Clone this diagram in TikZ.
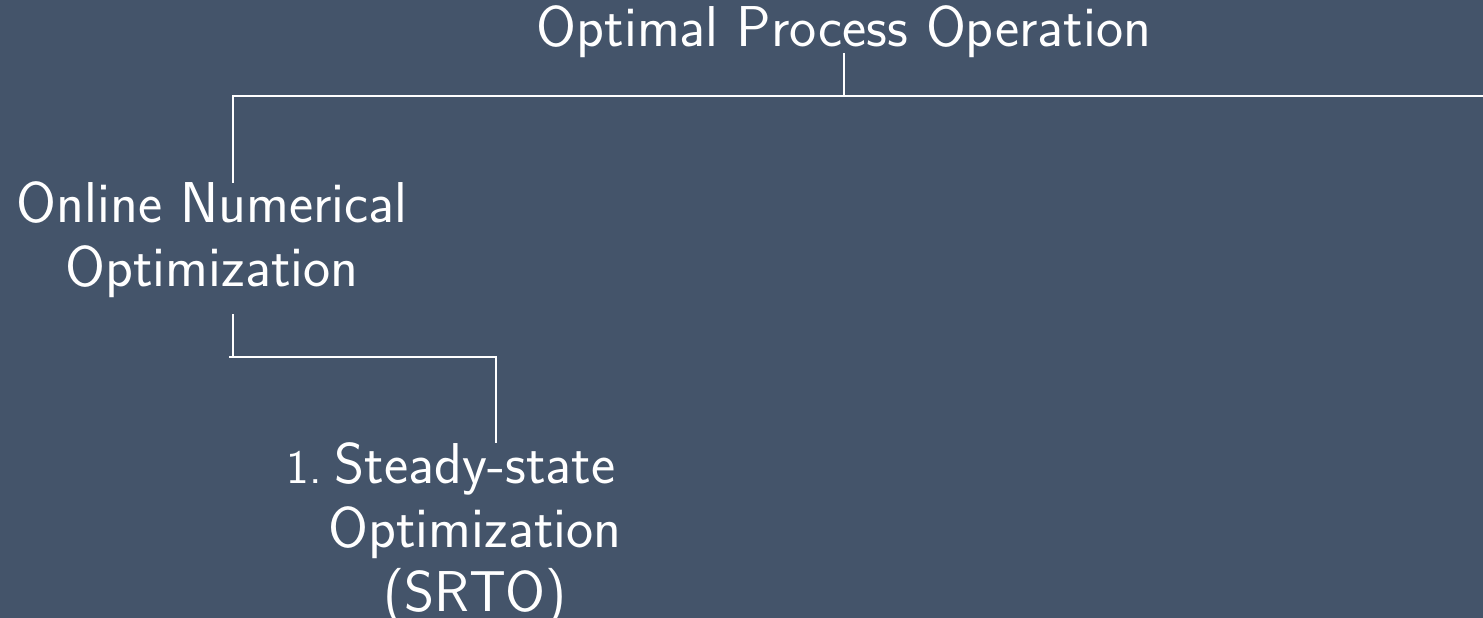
\documentclass[tikz,border=0pt]{standalone}
\usepackage{xcolor}
\definecolor{slate}{HTML}{44546A}
\begin{document}
\begin{tikzpicture}[x=1pt,y=-1pt,
  label/.style={text=white,font=\sffamily\fontsize{57.6}{64}\selectfont,align=center,inner sep=0pt,anchor=base},
  link/.style={draw=white,line width=2pt}]
  % background and bounding box
  \fill[slate] (0,0) rectangle (1483,618);
  \useasboundingbox (0,0) rectangle (1483,618);

  % text nodes (anchored at the baseline of their last line)
  \node[label] (root) at (844,47) {Optimal Process Operation};
  \node[label] (online) at (212,286) {Online Numerical\\Optimization};
  \node[label] (srto) at (475,611) {\llap{{\fontsize{48}{64}\selectfont 1.}\hspace{13pt}}Steady-state\\Optimization\\(SRTO)};

  % junction points of the tree connectors
  \coordinate (rootfoot) at (844,53);
  \coordinate (bar1) at (844,96);
  \coordinate (barend) at (1483,96);
  \coordinate (onlinetop) at (233,183);
  \coordinate (onlinefoot) at (233,314);
  \coordinate (bar2) at (229,357);
  \coordinate (srtotop) at (496,443);

  % connectors
  \draw[link] (rootfoot) -- (bar1);
  \draw[link] (barend) -- (onlinetop |- bar1) -- (onlinetop);
  \draw[link] (onlinefoot) -- (onlinefoot |- bar2);
  \draw[link] (bar2) -| (srtotop);
\end{tikzpicture}
\end{document}
